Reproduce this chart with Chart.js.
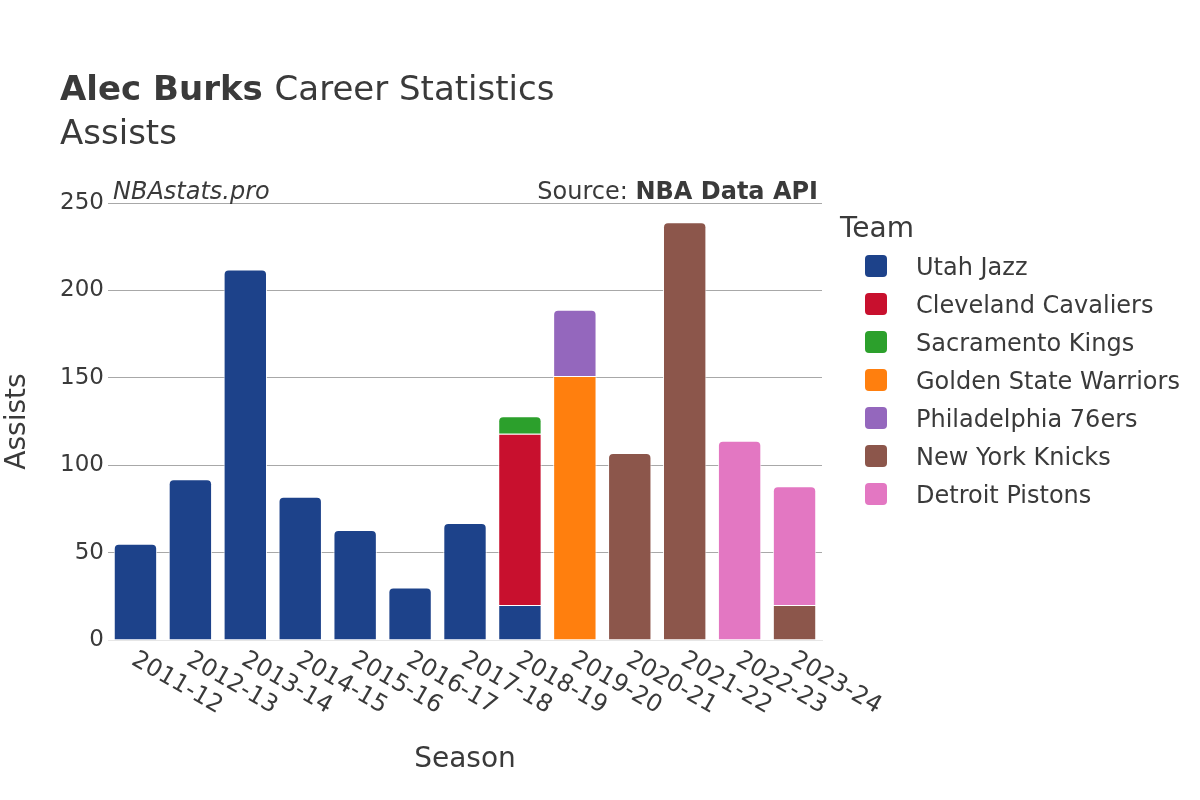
<!DOCTYPE html>
<html>
<head>
<meta charset="utf-8">
<script src="https://cdn.jsdelivr.net/npm/chart.js@4"></script>
<style>
  body { margin: 0; background: #fff; }
  #wrap { width: 1200px; height: 800px; }
</style>
</head>
<body>
<div id="wrap"><canvas id="chart" width="1200" height="800"></canvas></div>
<script>
// Seasons on the x axis
const seasons = ['2011-12', '2012-13', '2013-14', '2014-15', '2015-16', '2016-17', '2017-18',
    '2018-19', '2019-20', '2020-21', '2021-22', '2022-23', '2023-24'];

// Assists per team per season (null = did not play there)
const utahJazz = [55, 92, 212, 82, 63, 30, 67, 20, null, null, null, null, null];
const clevelandCavaliers = [null, null, null, null, null, null, null, 98, null, null, null, null, null];
const sacramentoKings = [null, null, null, null, null, null, null, 10, null, null, null, null, null];
const goldenStateWarriors = [null, null, null, null, null, null, null, null, 151, null, null, null, null];
const philadelphia76ers = [null, null, null, null, null, null, null, null, 38, null, null, null, null];
const newYorkKnicks = [null, null, null, null, null, null, null, null, null, 107, 239, null, 20];
const detroitPistons = [null, null, null, null, null, null, null, null, null, null, null, 114, 68];

const teams = ['Utah Jazz', 'Cleveland Cavaliers', 'Sacramento Kings', 'Golden State Warriors',
    'Philadelphia 76ers', 'New York Knicks', 'Detroit Pistons'];
const teamValues = [utahJazz, clevelandCavaliers, sacramentoKings, goldenStateWarriors,
    philadelphia76ers, newYorkKnicks, detroitPistons];
const teamColors = ['#1d428a', '#c8102e', '#2ca02c', '#ff7f0e', '#9467bd', '#8c564b', '#e377c2'];

// Y axis ticks
const yTicks = [0, 50, 100, 150, 200, 250];

const FONT = '"DejaVu Sans", Verdana, sans-serif';
const TEXT = '#3a3a3a';

// only the top segment of each stack gets round corners
const topRadius = (ctx) => {
    const i = ctx.dataIndex;
    for (let d = teamValues.length - 1; d >= 0; d--) {
        if (teamValues[d][i]) {
            return d === ctx.datasetIndex ? { topLeft: 5, topRight: 5 } : 0;
        }
    }
    return 0;
};

const datasets = teams.map((name, k) => ({
    label: name,
    data: teamValues[k],
    backgroundColor: teamColors[k],
    borderColor: 'rgba(255,255,255,0.85)',
    borderWidth: 1,
    borderSkipped: 'bottom',
    borderRadius: topRadius,
    barPercentage: 0.79,
    categoryPercentage: 1,
}));

// Titles, legend and rotated season labels
const decorations = {
    id: 'decorations',
    afterDraw(chart) {
        const c = chart.ctx;
        const area = chart.chartArea;
        c.save();
        c.fillStyle = TEXT;
        c.textBaseline = 'alphabetic';

        // title
        c.textAlign = 'left';
        c.font = 'bold 34px ' + FONT;
        c.fillText('Alec Burks', 60, 100);
        const w = c.measureText('Alec Burks ').width;
        c.font = '34px ' + FONT;
        c.fillText('Career Statistics', 60 + w, 100);
        c.fillText('Assists', 60, 144);

        // watermark / source
        c.font = 'italic 24px ' + FONT;
        c.fillText('NBAstats.pro', 113, 199);
        c.textAlign = 'right';
        c.font = 'bold 24px ' + FONT;
        c.fillText('NBA Data API', 818, 199);
        const bw = c.measureText('NBA Data API').width;
        c.font = '24px ' + FONT;
        c.fillText('Source: ', 818 - bw, 199);

        // legend
        c.textAlign = 'left';
        c.font = '28px ' + FONT;
        c.fillText('Team', 840, 237);
        c.font = '24px ' + FONT;
        teams.forEach((t, k) => {
            const cy = 266 + k * 38;
            c.fillStyle = teamColors[k];
            c.beginPath();
            c.roundRect(865, cy - 11, 22, 22, 4);
            c.fill();
            c.fillStyle = TEXT;
            c.fillText(t, 916, cy + 9);
        });

        // x tick labels, rotated clockwise
        const xs = chart.scales.x;
        c.font = '24px ' + FONT;
        c.textBaseline = 'middle';
        seasons.forEach((s, i) => {
            const x = xs.getPixelForTick(i);
            c.save();
            c.translate(x - 2, area.bottom + 18);
            c.rotate(Math.PI / 6);
            c.fillText(s, 0, 0);
            c.restore();
        });

        // axis titles
        c.textAlign = 'center';
        c.font = '28px ' + FONT;
        c.fillText('Season', (area.left + area.right) / 2, 760);
        c.save();
        c.translate(18, (area.top + area.bottom) / 2);
        c.rotate(-Math.PI / 2);
        c.fillText('Assists', 0, 0);
        c.restore();
        c.restore();
    }
};

new Chart(document.getElementById('chart'), {
    type: 'bar',
    data: { labels: seasons, datasets: datasets },
    plugins: [decorations],
    options: {
        responsive: false,
        animation: false,
        layout: { padding: { top: 203, right: 378, left: 0, bottom: 0 } },
        plugins: {
            legend: { display: false },
            tooltip: { enabled: false },
            title: { display: false },
        },
        scales: {
            x: {
                stacked: true,
                grid: { display: false },
                border: { display: true, color: '#e6e6e6', width: 1 },
                ticks: { display: false },
                afterFit: (s) => { s.height = 160; },
            },
            y: {
                stacked: true,
                min: 0,
                max: 250,
                afterBuildTicks: (s) => { s.ticks = yTicks.map(v => ({ value: v })); },
                grid: {
                    color: (ctx) => ctx.tick && ctx.tick.value === 0 ? '#e6e6e6' : '#a8a8a8',
                    lineWidth: 1,
                    drawTicks: false,
                },
                border: { display: false },
                ticks: {
                    color: TEXT,
                    font: { family: FONT, size: 23 },
                    padding: 4,
                },
                afterFit: (s) => { s.width = 108; },
            },
        },
    },
});
</script>
</body>
</html>
